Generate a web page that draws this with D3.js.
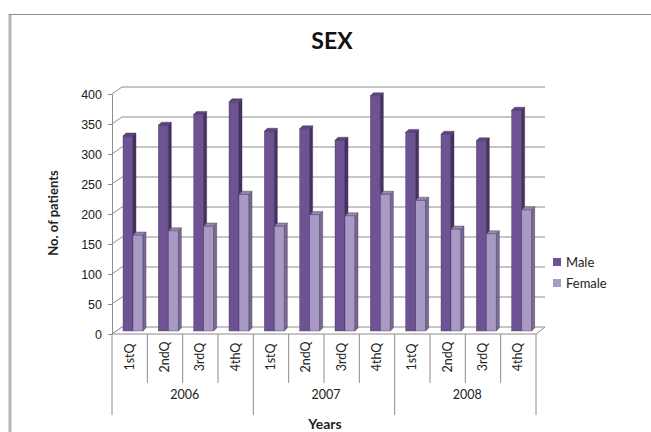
<!DOCTYPE html>
<html>
<head>
<meta charset="utf-8">
<script src="https://cdn.jsdelivr.net/npm/d3@7"></script>
<style>
  body { margin: 0; background: #fff; }
  svg { display: block; font-family: Lato, "Open Sans", sans-serif; }
</style>
</head>
<body>
<script>
var years = ["2006", "2007", "2008"];
var quarters = ["1stQ", "2ndQ", "3rdQ", "4thQ"];
var maleValues   = [325, 343, 361, 382, 333, 337, 318, 392, 331, 328, 317, 368];
var femaleValues = [160, 167, 175, 228, 175, 194, 192, 228, 218, 170, 162, 202];
var yTicks = [0, 50, 100, 150, 200, 250, 300, 350, 400];
var seriesNames = ["Male", "Female"];

var svgW = 651, svgH = 432;
var frontX0 = 112, frontX1 = 536;
var frontY0 = 334, frontY1 = 94;
var depthX = 10, depthY = -7;
var barDepth = 3;

var colores = {
  Male:   { front: "#6e5394", side: "#463160", top: "#5b4480" },
  Female: { front: "#a99ac5", side: "#7a6c94", top: "#9786b3" }
};

var categorias = [];
years.forEach(function(y) {
  quarters.forEach(function(q) { categorias.push(y + "-" + q); });
});

var svg = d3.select("body").append("svg")
  .attr("width", svgW)
  .attr("height", svgH);

// outer frame (left and top edges only visible)
svg.append("line").attr("x1", 10).attr("y1", 14).attr("x2", 10).attr("y2", svgH)
  .attr("stroke", "#b5b5b5").attr("stroke-width", 3);
svg.append("line").attr("x1", 9).attr("y1", 14.5).attr("x2", svgW).attr("y2", 14.5)
  .attr("stroke", "#8a8a8a").attr("stroke-width", 1);

var xScale = d3.scaleBand()
  .domain(categorias)
  .range([frontX0, frontX1]);

var yScale = d3.scaleLinear()
  .domain([0, 400])
  .range([frontY0, frontY1]);

// back wall gridlines + side wall diagonals
var grid = svg.append("g");
yTicks.forEach(function(t) {
  var yf = yScale(t);
  grid.append("line")
    .attr("x1", frontX0).attr("y1", yf)
    .attr("x2", frontX0 + depthX).attr("y2", yf + depthY)
    .attr("stroke", "#8c8c8c");
  if (t > 0) {
    grid.append("line")
      .attr("x1", frontX0 + depthX).attr("y1", yf + depthY)
      .attr("x2", frontX1 + depthX - 1).attr("y2", yf + depthY)
      .attr("stroke", "#8c8c8c");
  }
});

// floor
grid.append("path")
  .attr("d", "M" + frontX0 + "," + frontY0 +
             "L" + (frontX0 + depthX) + "," + (frontY0 + depthY) +
             "L" + (frontX1 + depthX - 1) + "," + (frontY0 + depthY) +
             "L" + frontX1 + "," + frontY0 + "Z")
  .attr("fill", "#fff")
  .attr("stroke", "#8c8c8c");

// y axis
var yAxis = d3.axisLeft(yScale)
  .tickValues(yTicks)
  .tickSizeInner(4)
  .tickSizeOuter(0)
  .tickPadding(6);

var gy = svg.append("g")
  .attr("transform", "translate(" + frontX0 + ",0)")
  .call(yAxis);
gy.select(".domain").attr("stroke", "#8c8c8c");
gy.selectAll(".tick line").attr("stroke", "#8c8c8c");
gy.selectAll("text").attr("font-size", 12.5).attr("fill", "#222");

// bars
var barW = 10;
function dibujarBarra(g, x0, valor, c) {
  var yTop = yScale(valor) - 3;
  var yBot = frontY0 - 3;
  var x1 = x0 + barW;
  g.append("rect")
    .attr("x", x0).attr("y", yTop)
    .attr("width", barW).attr("height", yBot - yTop)
    .attr("fill", c.front).attr("stroke", "#4a3a60").attr("stroke-width", 0.4);
  g.append("path")
    .attr("d", "M" + x1 + "," + yTop + "L" + (x1 + barDepth) + "," + (yTop - barDepth) +
               "L" + (x1 + barDepth) + "," + (yBot - barDepth) + "L" + x1 + "," + yBot + "Z")
    .attr("fill", c.side).attr("stroke", "#3a2c4f").attr("stroke-width", 0.4);
  g.append("path")
    .attr("d", "M" + x0 + "," + yTop + "L" + (x0 + barDepth) + "," + (yTop - barDepth) +
               "L" + (x1 + barDepth) + "," + (yTop - barDepth) + "L" + x1 + "," + yTop + "Z")
    .attr("fill", c.top).attr("stroke", "#3a2c4f").attr("stroke-width", 0.4);
}

var bars = svg.append("g");
categorias.forEach(function(cat, i) {
  var x0 = xScale(cat) + 11;
  var g = bars.append("g");
  dibujarBarra(g, x0, maleValues[i], colores.Male);
  dibujarBarra(g, x0 + barW, femaleValues[i], colores.Female);
});

// category axis (multi-level)
var catAxis = svg.append("g");
var bw = xScale.bandwidth();
categorias.forEach(function(cat, i) {
  var x = xScale(cat);
  var largo = (i % 4 === 0) ? 415 : 383;
  catAxis.append("line")
    .attr("x1", x).attr("y1", frontY0).attr("x2", x).attr("y2", largo)
    .attr("stroke", "#8c8c8c");
  catAxis.append("text")
    .attr("transform", "translate(" + (x + bw / 2 + 4) + ",357) rotate(-90)")
    .attr("text-anchor", "middle")
    .attr("font-size", 12.5)
    .attr("fill", "#222")
    .text(quarters[i % 4]);
});
catAxis.append("line")
  .attr("x1", frontX1).attr("y1", frontY0).attr("x2", frontX1).attr("y2", 415)
  .attr("stroke", "#8c8c8c");

years.forEach(function(y, j) {
  var xa = xScale(y + "-" + quarters[0]);
  var xb = xScale(y + "-" + quarters[3]) + bw;
  catAxis.append("text")
    .attr("x", (xa + xb) / 2 + 2)
    .attr("y", 399)
    .attr("text-anchor", "middle")
    .attr("font-size", 12.5)
    .attr("fill", "#222")
    .text(y);
});

// titles
svg.append("text")
  .attr("x", 332).attr("y", 49)
  .attr("text-anchor", "middle")
  .attr("font-size", 23).attr("font-weight", "bold")
  .attr("fill", "#111")
  .text("SEX");

svg.append("text")
  .attr("x", 325).attr("y", 429)
  .attr("text-anchor", "middle")
  .attr("font-size", 14).attr("font-weight", "bold")
  .attr("fill", "#222")
  .text("Years");

svg.append("text")
  .attr("transform", "translate(58,213) rotate(-90)")
  .attr("text-anchor", "middle")
  .attr("font-size", 13).attr("font-weight", "bold")
  .attr("fill", "#222")
  .text("No. of patients");

// legend
var legend = svg.append("g");
seriesNames.forEach(function(n, i) {
  var y = 262 + i * 21;
  legend.append("rect")
    .attr("x", 553).attr("y", y - 4)
    .attr("width", 8).attr("height", 8)
    .attr("fill", colores[n].front);
  legend.append("text")
    .attr("x", 566).attr("y", y + 5)
    .attr("font-size", 13)
    .attr("fill", "#222")
    .text(n);
});
</script>
</body>
</html>
